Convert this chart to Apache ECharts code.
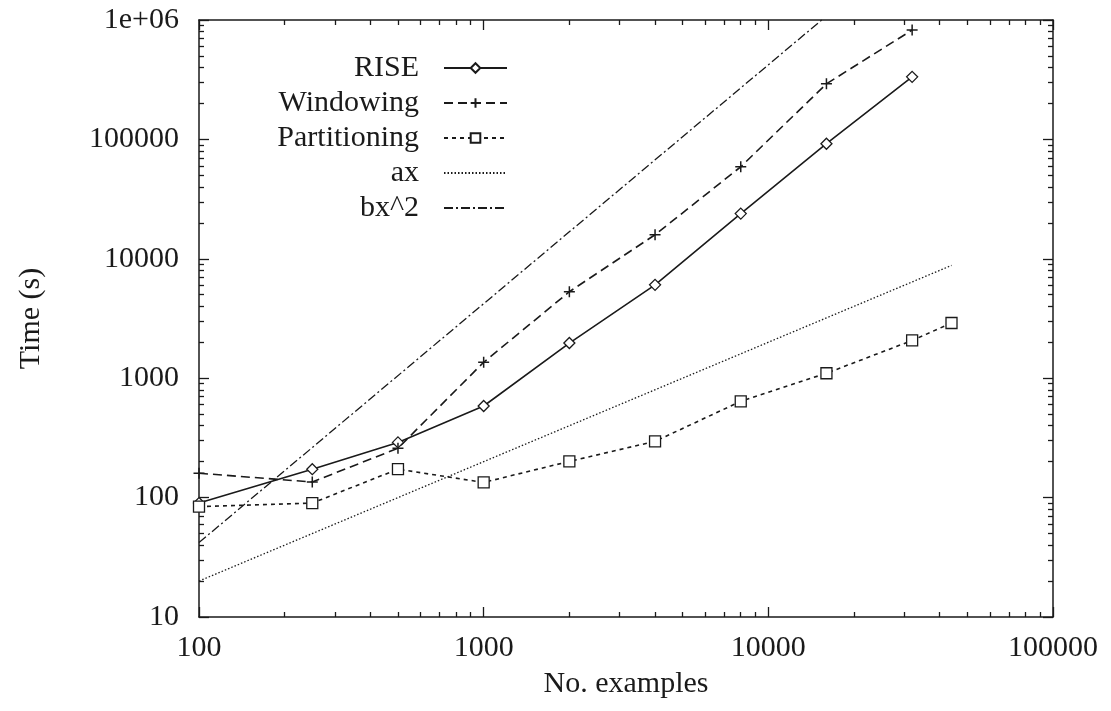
<!DOCTYPE html>
<html>
<head>
<meta charset="utf-8">
<title>RISE timing</title>
<script src="https://cdn.jsdelivr.net/npm/echarts@6/dist/echarts.min.js"></script>
<style>
  html, body { margin: 0; padding: 0; background: #fff; }
  #chart { width: 1111px; height: 711px; }
</style>
</head>
<body>
<div id="chart"></div>
<script>
// values (x = number of examples, y = seconds)
const sizes = [100, 250, 500, 1000, 2000, 4000, 8000, 16000, 32000];
const riseTime = [90, 173, 290, 585, 1970, 6050, 23900, 92000, 334000];
const windowingTime = [160, 135, 259, 1360, 5300, 15900, 59000, 292000, 824000];
const partSizes = [100, 250, 500, 1000, 2000, 4000, 8000, 16000, 32000, 44000];
const partitioningTime = [84, 90, 173, 134, 201, 296, 640, 1100, 2070, 2900];
const axSizes = [100, 44000];
const axTime = [20, 8800];
const bx2Sizes = [100, 15400];
const bx2Time = [42, 1000000];

const xTicks = [100, 1000, 10000, 100000];
const yTicks = [10, 100, 1000, 10000, 100000, 1000000];
const yTickLabels = ['10', '100', '1000', '10000', '100000', '1e+06'];
const xMinor = [];
const yMinor = [];
[100, 1000, 10000].forEach(function (d) {
    for (let k = 2; k <= 9; k++) xMinor.push(d * k);
});
[10, 100, 1000, 10000, 100000].forEach(function (d) {
    for (let k = 2; k <= 9; k++) yMinor.push(d * k);
});

const ink = '#1a1a1a';
const font = 'Liberation Serif';

function pairs(xs, ys) {
    return xs.map(function (x, i) { return [x, ys[i]]; });
}

function xAxisFor(pos, ticks, len, main) {
    return {
        type: 'log', logBase: 10, min: 100, max: 100000, position: pos,
        axisLine: { show: main, lineStyle: { color: ink, width: 1.5 } },
        axisTick: { show: true, inside: true, length: len, customValues: ticks,
                    lineStyle: { color: ink, width: 1.3 } },
        axisLabel: {
            show: main && pos === 'bottom', customValues: xTicks,
            color: ink, fontFamily: font, fontSize: 30, margin: 16,
            formatter: function (v) { return String(Math.round(v)); }
        },
        splitLine: { show: false },
        name: main && pos === 'bottom' ? 'No. examples' : '',
        nameLocation: 'middle', nameGap: 52,
        nameTextStyle: { color: ink, fontFamily: font, fontSize: 30 }
    };
}

function yAxisFor(pos, ticks, len, main) {
    return {
        type: 'log', logBase: 10, min: 10, max: 1000000, position: pos,
        axisLine: { show: main, lineStyle: { color: ink, width: 1.5 } },
        axisTick: { show: true, inside: true, length: len, customValues: ticks,
                    lineStyle: { color: ink, width: 1.3 } },
        axisLabel: {
            show: main && pos === 'left', customValues: yTicks,
            color: ink, fontFamily: font, fontSize: 30, margin: 20,
            formatter: function (v) {
                const i = yTicks.indexOf(Math.round(v));
                return i >= 0 ? yTickLabels[i] : String(v);
            }
        },
        splitLine: { show: false },
        name: main && pos === 'left' ? 'Time (s)' : '',
        nameLocation: 'middle', nameGap: 153,
        nameTextStyle: { color: ink, fontFamily: font, fontSize: 30 }
    };
}

const noMark = { color: 'rgba(0,0,0,0)', borderWidth: 0 };

const chart = echarts.init(document.getElementById('chart'));
const option = {
    backgroundColor: '#fff',
    animation: false,
    grid: { left: 199, right: 58, top: 20, bottom: 94 },
    legend: {
        orient: 'vertical',
        align: 'right',
        right: 603,
        top: 53,
        padding: 0,
        itemWidth: 63,
        itemHeight: 12,
        itemGap: 5,
        textStyle: { color: ink, fontFamily: font, fontSize: 30, padding: [0, 20, 0, 0] },
        data: ['RISE', 'Windowing', 'Partitioning', 'ax', 'bx^2']
    },
    xAxis: [
        xAxisFor('bottom', xTicks, 10, true),
        xAxisFor('bottom', xMinor, 5, false),
        xAxisFor('top', xTicks, 10, true),
        xAxisFor('top', xMinor, 5, false)
    ],
    yAxis: [
        yAxisFor('left', yTicks, 10, true),
        yAxisFor('left', yMinor, 5, false),
        yAxisFor('right', yTicks, 10, true),
        yAxisFor('right', yMinor, 5, false)
    ],
    series: [
        {
            name: 'RISE', type: 'line', data: pairs(sizes, riseTime),
            symbol: 'diamond', symbolSize: 11,
            itemStyle: { color: '#fff', borderColor: ink, borderWidth: 1.3 },
            lineStyle: { color: ink, width: 1.6, type: 'solid' }
        },
        {
            name: 'Windowing', type: 'line', data: pairs(sizes, windowingTime),
            symbol: 'path://M0,5L10,5M5,0L5,10', symbolSize: 11,
            itemStyle: { color: 'none', borderColor: ink, borderWidth: 1.5 },
            lineStyle: { color: ink, width: 1.6, type: [9, 5] }
        },
        {
            name: 'Partitioning', type: 'line', data: pairs(partSizes, partitioningTime),
            symbol: 'rect', symbolSize: 11,
            itemStyle: { color: '#fff', borderColor: ink, borderWidth: 1.3 },
            lineStyle: { color: ink, width: 1.6, type: [4, 4] }
        },
        {
            name: 'ax', type: 'line', data: pairs(axSizes, axTime),
            symbol: 'circle', showSymbol: false,
            itemStyle: noMark,
            lineStyle: { color: ink, width: 1.3, type: [1.5, 2] }
        },
        {
            name: 'bx^2', type: 'line', data: pairs(bx2Sizes, bx2Time),
            symbol: 'circle', showSymbol: false,
            itemStyle: noMark,
            lineStyle: { color: ink, width: 1.3, type: [9, 3, 2, 3] }
        }
    ]
};
chart.setOption(option);
</script>
</body>
</html>
